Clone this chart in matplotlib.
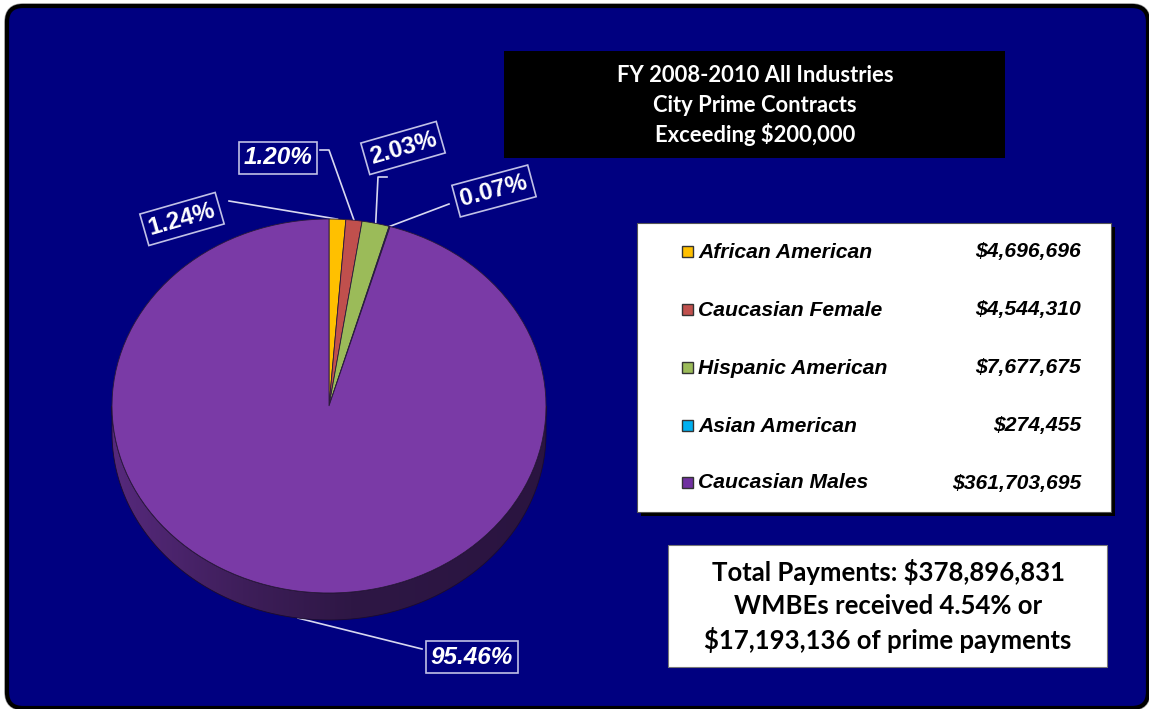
import numpy as np
import matplotlib
matplotlib.use('Agg')
import matplotlib.pyplot as plt
from matplotlib.patches import FancyBboxPatch, Rectangle, PathPatch
from matplotlib.path import Path
from matplotlib.colors import LinearSegmentedColormap

# ---------------- data ----------------
categories = ["African American", "Caucasian Female", "Hispanic American",
              "Asian American", "Caucasian Males"]
amounts = [4696696, 4544310, 7677675, 274455, 361703695]
amount_labels = ["$4,696,696", "$4,544,310", "$7,677,675", "$274,455", "$361,703,695"]
pct_labels = ["1.24%", "1.20%", "2.03%", "0.07%", "95.46%"]
title_lines = ["FY 2008-2010 All Industries", "City Prime Contracts", "Exceeding $200,000"]
summary_lines = ["Total Payments: $378,896,831", "WMBEs received 4.54% or",
                 "$17,193,136 of prime payments"]
slice_colors = ["#FFC000", "#C0504D", "#9BBB59", "#00B0F0", "#7A3AA6"]
legend_colors = ["#FFC000", "#C0504D", "#9BBB59", "#00B0F0", "#7030A0"]

# ---------------- figure ----------------
W, H = 1149, 709
fig = plt.figure(figsize=(W / 100, H / 100), dpi=100)
fig.patch.set_facecolor('white')
bg = fig.add_axes([0, 0, 1, 1])
bg.set_xlim(0, W)
bg.set_ylim(H, 0)
bg.axis('off')

# outer rounded navy panel
bg.add_patch(FancyBboxPatch((7, 6), 1141, 702, boxstyle="round,pad=0,rounding_size=16",
                            fc='none', ec='#a0a0a0', lw=4.0, zorder=0))
bg.add_patch(FancyBboxPatch((7, 6), 1141, 702, boxstyle="round,pad=0,rounding_size=16",
                            fc='#000080', ec='black', lw=3.0, zorder=1))

# ---------------- pie (3D-like ellipse) ----------------
cx, cy, rx, ry = 329, 406, 217, 187
depth = 27
d = depth / ry
x0, x1 = -1.1, 1.1
y0, y1 = -1.1 - d, 1.1
left_px, right_px = cx + x0 * rx, cx + x1 * rx
top_px, bottom_px = cy - y1 * ry, cy - y0 * ry
pax = fig.add_axes([left_px / W, 1 - bottom_px / H,
                    (right_px - left_px) / W, (bottom_px - top_px) / H])
pax.patch.set_alpha(0)
pax.axis('off')

# side of the cylinder
th = np.linspace(np.pi, 2 * np.pi, 200)
verts = np.concatenate([np.column_stack([np.cos(th), np.sin(th) - d]),
                        np.column_stack([np.cos(th[::-1]), np.sin(th[::-1])])])
side_path = Path(np.vstack([verts, verts[:1]]), closed=True)
side_patch = PathPatch(side_path, fc='none', ec='#1c0c2c', lw=0.6, zorder=2)
pax.add_patch(side_patch)
cmap = LinearSegmentedColormap.from_list(
    'side', [(0, '#56297c'), (0.3, '#3e1e5a'), (0.55, '#2e1745'), (1.0, '#2a1440')])
grad = np.linspace(0, 1, 256).reshape(1, -1)
im = pax.imshow(grad, cmap=cmap, extent=[-1, 1, -1 - d, 0], aspect='auto',
                zorder=1, interpolation='bilinear')
im.set_clip_path(side_patch)

wedges, _ = pax.pie(amounts, colors=slice_colors, startangle=90, counterclock=False,
                    radius=1, wedgeprops=dict(edgecolor='#2a1a3a', linewidth=0.6))
for w in wedges:
    w.set_zorder(3)
pax.set_aspect('auto')
pax.set_xlim(x0, x1)
pax.set_ylim(y0, y1)


def pie_to_bg(x, y):
    disp = pax.transData.transform((x, y))
    return bg.transData.inverted().transform(disp)


# ---------------- percentage labels ----------------
label_centers = [(182, 219), (278, 158), (403, 148), (494, 191), (472, 657)]
label_rot = [16, 0, 16, 15, 0]
label_style = ['normal', 'italic', 'normal', 'normal', 'italic']
leader_pts = [[(229, 201)], [(320, 150), (329, 150)], [(387, 177), (378, 177)],
              [(449, 204)], [(422, 649)]]
for i, w in enumerate(wedges):
    mid = np.deg2rad((w.theta1 + w.theta2) / 2)
    ax_, ay_ = np.cos(mid), np.sin(mid)
    if ay_ < 0:
        ay_ -= d
    anchor = pie_to_bg(ax_, ay_)
    pts = leader_pts[i] + [tuple(anchor)]
    xs, ys = zip(*pts)
    bg.plot(xs, ys, color='#d8d8f0', lw=1.2, zorder=4)
    bg.text(label_centers[i][0], label_centers[i][1], pct_labels[i], color='white',
            fontsize=17.5, fontweight='bold', fontstyle=label_style[i],
            family='Liberation Sans', ha='center', va='center', rotation=label_rot[i],
            rotation_mode='anchor', zorder=6,
            bbox=dict(boxstyle='square,pad=0.2', fc='#000080', ec='#c0c0e6', lw=1.2))

# ---------------- title box ----------------
bg.add_patch(Rectangle((504, 51), 501, 107, fc='black', ec='none', zorder=3))
for k, line in enumerate(title_lines):
    bg.text(755, 75 + 30 * k, line, color='white', fontsize=15.8, fontweight='bold',
            family='Lato', ha='center', va='center', zorder=4)

# ---------------- legend box ----------------
bg.add_patch(Rectangle((641, 227), 474, 289, fc='black', ec='none', zorder=3))
bg.add_patch(Rectangle((637, 223), 474, 289, fc='white', ec='#555555', lw=0.8, zorder=4))
row_y = [252, 310, 368, 426, 483]
for k, cat in enumerate(categories):
    bg.add_patch(Rectangle((682, row_y[k] - 6), 11, 11, fc=legend_colors[k],
                           ec='#333333', lw=1.0, zorder=5))
    bg.text(698, row_y[k], cat, color='black', fontsize=15.2, fontweight='bold',
            fontstyle='italic', family='Liberation Sans', ha='left', va='center', zorder=5)
    bg.text(1081, row_y[k], amount_labels[k], color='black', fontsize=15.2,
            fontweight='bold', fontstyle='italic', family='Liberation Sans',
            ha='right', va='center', zorder=5)

# ---------------- summary box ----------------
bg.add_patch(Rectangle((668, 545), 439, 122, fc='white', ec='#777777', lw=0.8, zorder=4))
for k, line in enumerate(summary_lines):
    bg.text(888, 572 + 34 * k, line, color='black', fontsize=18.5, fontweight='bold',
            family='Lato', ha='center', va='center', zorder=5)

fig.savefig('out.png', dpi=100, facecolor=fig.get_facecolor())
